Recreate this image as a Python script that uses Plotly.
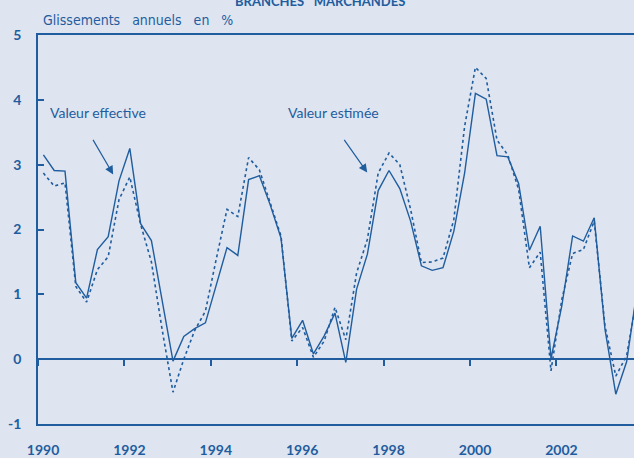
import plotly.graph_objects as go

# quarterly data 1990Q1 - 2003Q4
years = [y for y in range(1990, 2004) for q in range(4)]
quarters = [q for y in range(1990, 2004) for q in range(1, 5)]

effective = [3.15, 2.91, 2.90, 1.18, 0.94, 1.69, 1.89, 2.75,
             3.25, 2.09, 1.83, 0.92, -0.03, 0.35, 0.47, 0.56,
             1.13, 1.72, 1.60, 2.77, 2.83, 2.38, 1.87, 0.32,
             0.60, 0.08, 0.36, 0.71, -0.05, 1.08, 1.62, 2.60,
             2.91, 2.63, 2.13, 1.44, 1.37, 1.41, 1.97, 2.87,
             4.10, 4.01, 3.14, 3.12, 2.71, 1.68, 2.05, 0.01,
             0.82, 1.90, 1.82, 2.18, 0.46, -0.54, -0.04, 1.10]

estimee = [2.87, 2.67, 2.72, 1.12, 0.88, 1.38, 1.58, 2.46,
           2.81, 2.08, 1.50, 0.45, -0.51, 0.00, 0.44, 0.74,
           1.54, 2.31, 2.20, 3.11, 2.92, 2.41, 1.90, 0.28,
           0.49, 0.03, 0.28, 0.80, 0.30, 1.33, 1.85, 2.87,
           3.18, 3.00, 2.31, 1.49, 1.50, 1.56, 2.15, 3.59,
           4.50, 4.33, 3.38, 3.15, 2.62, 1.41, 1.65, -0.18,
           0.92, 1.63, 1.69, 2.13, 0.51, -0.26, 0.05, 1.00]

y_ticks = [-1, 0, 1, 2, 3, 4, 5]

x = [y + (q - 0.5) / 4 for y, q in zip(years, quarters)]

blue = '#1f5d9e'
bg = '#dee4f0'
font_num = dict(family='Lato', size=14, color=blue, weight='bold')

fig = go.Figure()
fig.add_trace(go.Scatter(x=x, y=estimee, mode='lines', name='Valeur estimée',
                         line=dict(color=blue, width=1.6, dash='dot')))
# the effective series sits on x2, which carries the tick marks on the zero line
fig.add_trace(go.Scatter(x=x, y=effective, mode='lines', name='Valeur effective',
                         xaxis='x2', line=dict(color=blue, width=1.4)))

xr = [1990, 1990 + 596 / 43.2]

fig.update_layout(
    width=634, height=458,
    paper_bgcolor=bg, plot_bgcolor=bg,
    margin=dict(l=38, r=0, t=35, b=34),
    showlegend=False,
    title=dict(text='BRANCHES   MARCHANDES', x=0.505, xanchor='center', y=0.996, yanchor='middle',
               font=dict(family='Lato', size=13, color=blue, weight='bold'), automargin=False),
    xaxis=dict(range=xr, tick0=1990, dtick=2, showgrid=False, zeroline=False,
               showline=True, linecolor=blue, linewidth=2, mirror=True, automargin=False,
               ticks='', tickfont=font_num, ticklabelstandoff=12, ticklabelshift=5),
    xaxis2=dict(range=xr, tick0=1990, dtick=2, overlaying='x', anchor='free', position=1 / 6,
                showgrid=False, zeroline=False, showline=False, showticklabels=False,
                automargin=False, side='bottom',
                ticks='outside', ticklen=6, tickwidth=1.5, tickcolor=blue),
    yaxis=dict(range=[-1, 5], tickvals=y_ticks, ticktext=[str(v) for v in y_ticks],
               showgrid=False, zeroline=True, zerolinecolor=blue,
               zerolinewidth=1.5, showline=True, linecolor=blue, linewidth=1.5, automargin=False,
               ticks='inside', ticklen=6, tickwidth=1.5, tickcolor=blue,
               tickfont=font_num, ticklabelstandoff=12),
)

fig.add_annotation(text='Glissements&nbsp;&nbsp; annuels&nbsp;&nbsp; en&nbsp;&nbsp; %',
                   xref='paper', yref='paper', x=0, y=1, xshift=3, yshift=15,
                   xanchor='left', yanchor='middle', showarrow=False,
                   font=dict(family='DejaVu Sans Condensed', size=14, color=blue))

label_font = dict(family='Lato', size=14, color=blue)
fig.add_annotation(text='Valeur effective', x=1990.23, y=3.8, xanchor='left', yanchor='middle',
                   showarrow=False, font=label_font)
fig.add_annotation(text='Valeur estimée', x=1995.75, y=3.8, xanchor='left', yanchor='middle',
                   showarrow=False, font=label_font)

fig.add_annotation(x=1991.74, y=2.85, ax=-21, ay=-36, text='', showarrow=True,
                   arrowhead=2, arrowsize=1.4, arrowwidth=1.2, arrowcolor=blue)
fig.add_annotation(x=1997.62, y=2.88, ax=-24, ay=-34, text='', showarrow=True,
                   arrowhead=2, arrowsize=1.4, arrowwidth=1.2, arrowcolor=blue)

fig.write_html("out.html", config={'displayModeBar': False},
               post_script="document.body.style.margin='0';")
